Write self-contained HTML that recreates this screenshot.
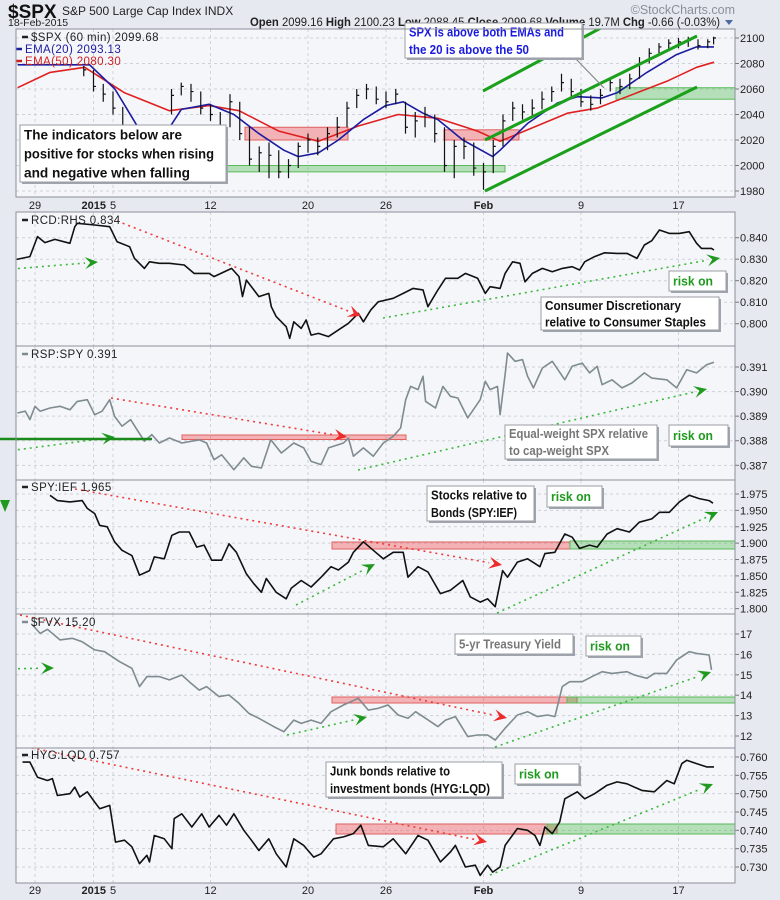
<!DOCTYPE html>
<html><head><meta charset="utf-8"><style>
html,body{margin:0;padding:0;background:#e6e9f0;}
svg{display:block;font-family:"Liberation Sans",Arial,sans-serif;}
</style></head><body>
<svg id="chart" width="780" height="900" viewBox="0 0 780 900" xmlns="http://www.w3.org/2000/svg">
<defs>
<clipPath id="c1"><rect x="16" y="29" width="719" height="168"/></clipPath>
<clipPath id="c2"><rect x="16" y="212" width="719" height="134"/></clipPath>
<clipPath id="c3"><rect x="16" y="346" width="719" height="134"/></clipPath>
<clipPath id="c4"><rect x="16" y="480" width="719" height="134"/></clipPath>
<clipPath id="c5"><rect x="16" y="614" width="719" height="134"/></clipPath>
<clipPath id="c6"><rect x="16" y="748" width="719" height="135"/></clipPath>
</defs>
<rect x="0" y="0" width="780" height="900" fill="#e6e9f0"/>
<text x="8" y="18" font-size="19" font-weight="bold" fill="#111">$SPX</text>
<text x="62" y="15" font-size="12" fill="#222">S&amp;P 500 Large Cap Index  INDX</text>
<text x="8" y="26" font-size="10.5" fill="#222">18-Feb-2015</text>
<text x="250" y="26" font-size="11.5" fill="#222" textLength="470" lengthAdjust="spacingAndGlyphs"><tspan font-weight="bold">Open</tspan> 2099.16 <tspan font-weight="bold">High</tspan> 2100.23 <tspan font-weight="bold">Low</tspan> 2088.45 <tspan font-weight="bold">Close</tspan> 2099.68 <tspan font-weight="bold">Volume</tspan> 19.7M <tspan font-weight="bold">Chg</tspan> -0.66 (-0.03%)</text>
<polygon points="725,20 733,20 729,25" fill="#4a6aa0"/>
<text x="735" y="14" font-size="12.5" fill="#8a8f99" text-anchor="end">©StockCharts.com</text>
<g id="root"></g>
</svg>
<script>
// ---------- DATA ----------
const dateTicks = [0, 3, 4, 9, 14, 18, 23, 28, 33];
const dateLabels = ["29", "2015", "5", "12", "20", "26", "Feb", "9", "17"];
const dateBold = [false, true, false, false, false, false, true, false, false];

const spxT = [2.5,3,3.5,4,4.5,5,5.5,6,6.5,7,7.5,8,8.5,9,9.5,10,10.5,11,11.5,12,12.5,13,13.5,14,14.5,15,15.5,16,16.5,17,17.5,18,18.5,19,19.5,20,20.5,21,21.5,22,22.5,23,23.5,24,24.5,25,25.5,26,26.5,27,27.5,28,28.5,29,29.5,30,30.5,31,31.5,32,32.5,33,33.5,34,34.5,34.8];
const spxHigh = [2078,2075,2064,2058,2046,2030,2015,2022,2032,2060,2065,2064,2058,2048,2042,2056,2050,2030,2015,2018,2012,2005,2018,2025,2022,2030,2038,2050,2060,2064,2062,2058,2060,2050,2042,2046,2040,2030,2020,2022,2018,2002,2020,2040,2050,2048,2052,2058,2062,2072,2068,2060,2055,2060,2068,2068,2072,2085,2092,2096,2099,2100,2101,2099,2099,2101];
const spxLow = [2070,2058,2050,2040,2020,2005,1995,2000,2018,2040,2055,2050,2040,2035,2024,2030,2020,2000,1995,1990,1990,1990,1998,2010,2008,2012,2022,2030,2045,2052,2048,2045,2048,2025,2022,2030,2018,1995,1990,2005,1992,1981,1994,2015,2035,2036,2038,2044,2050,2058,2052,2046,2043,2048,2058,2056,2060,2068,2080,2088,2090,2092,2093,2091,2092,2095];
const spxClose = [2075,2062,2056,2045,2025,2012,2003,2018,2028,2055,2062,2058,2045,2040,2030,2050,2025,2005,2010,2008,1995,2000,2015,2020,2015,2025,2030,2045,2055,2060,2052,2050,2056,2030,2035,2040,2025,2000,2015,2015,1998,1995,2015,2035,2045,2042,2045,2052,2058,2065,2058,2050,2048,2055,2065,2062,2068,2080,2088,2093,2096,2097,2098,2094,2097,2100];
const ema50T = [-0.89,0.77,2.55,4.59,6.89,8.93,10.46,12.5,14.54,16.58,18.62,20.66,22.7,23.85,25.26,27.3,28.83,30.87,32.4,33.93,34.82];
const ema50V = [2061,2073,2077,2057,2043,2047,2043,2027,2019,2031,2040,2037,2027,2019,2028,2041,2045,2057,2066,2077,2081];
const ema20T = [-0.89,2.8,4.1,5.36,6.4,7.5,8.93,10.2,11.48,12.76,13.5,14.54,15.56,16.84,17.98,18.88,19.9,20.66,21.94,23.47,23.85,25.26,26.79,27.81,29.08,29.85,31.38,32.9,33.93,34.82];
const ema20V = [2079,2079,2060,2028,2018,2044,2048,2040,2025,2012,2007,2010,2020,2036,2047,2050,2041,2036,2020,2007,2012,2033,2049,2054,2053,2057,2073,2087,2093,2093];
const spxTicks = [2100,2080,2060,2040,2020,2000,1980];

const rcdT = [-0.94,-0.26,0.13,0.51,1.02,1.79,2.04,2.17,3.06,3.83,4.21,4.85,5.1,5.61,5.87,6.38,6.89,7.65,8.16,8.93,9.18,10.08,10.46,10.64,10.84,11.48,11.99,12.12,12.37,12.88,13.06,13.27,13.65,13.9,14.16,14.54,15.05,15.56,16.07,16.58,16.84,17.22,17.6,18.37,18.88,19.39,19.9,20.15,20.66,21.05,21.68,22.07,22.7,23.09,23.34,23.85,24.11,24.49,24.87,25.13,25.51,26.02,26.53,27.04,27.55,27.93,28.19,28.7,29.21,29.85,30.36,30.87,31.25,31.63,32.02,32.53,33.04,33.55,33.93,34.18,34.69,34.82];
const rcdV = [0.8299,0.8312,0.8405,0.8377,0.8392,0.8374,0.8451,0.8467,0.8459,0.8451,0.8381,0.8358,0.8304,0.8257,0.8288,0.8281,0.8281,0.8273,0.8234,0.8234,0.8219,0.8257,0.8219,0.8126,0.8203,0.8126,0.8141,0.8079,0.8033,0.7986,0.7932,0.8009,0.7978,0.8017,0.7947,0.7955,0.7940,0.7971,0.8002,0.8048,0.8009,0.8064,0.8102,0.8118,0.8141,0.8164,0.8157,0.8079,0.8157,0.8211,0.8211,0.8234,0.8211,0.8141,0.8172,0.8164,0.8234,0.8288,0.8281,0.8195,0.8234,0.8257,0.8242,0.8257,0.8265,0.8250,0.8288,0.8312,0.8330,0.8327,0.8327,0.8304,0.8366,0.8386,0.8436,0.8420,0.8420,0.8428,0.8374,0.8350,0.8350,0.8343];
const rcdTicks = [0.840,0.830,0.820,0.810,0.800];

const rspT = [-0.9,-0.5,-0.26,0,0.26,0.77,1.28,1.79,2.17,2.68,3.06,3.44,3.83,4.08,4.46,4.9,5.23,5.61,5.99,6.38,6.89,7.53,8.42,8.8,9.18,9.57,10.2,10.71,11.1,11.61,12.09,12.63,13.27,13.78,14.16,14.67,15.05,15.82,16.07,16.33,16.84,17.35,17.86,18.37,18.75,19.01,19.26,19.64,19.9,20.03,20.54,20.92,21.3,21.68,22.19,22.83,23.09,23.34,23.72,23.85,24.11,24.23,24.62,25,25.26,25.56,26.02,26.53,27.17,27.55,28.06,28.44,28.83,29.08,29.59,30.1,30.61,31.25,31.63,32.4,32.91,33.42,33.93,34.44,34.82];
const rspV = [0.38913,0.3892,0.38886,0.3894,0.3892,0.38933,0.3894,0.38926,0.3896,0.38967,0.38906,0.3892,0.38967,0.38899,0.38859,0.38886,0.38845,0.38798,0.38825,0.38791,0.38811,0.38791,0.38804,0.38791,0.38723,0.38743,0.38682,0.3873,0.38696,0.38689,0.38804,0.3875,0.38791,0.38771,0.38716,0.38703,0.38771,0.38791,0.38811,0.38737,0.38771,0.38737,0.38791,0.38818,0.38852,0.38967,0.39021,0.39008,0.39062,0.3896,0.38933,0.39021,0.38981,0.38974,0.38893,0.38967,0.39042,0.39008,0.39021,0.38906,0.39069,0.39157,0.39123,0.3913,0.39062,0.39015,0.39096,0.39123,0.39048,0.39103,0.39116,0.39076,0.39103,0.39028,0.39048,0.39015,0.39035,0.39076,0.39055,0.39048,0.39015,0.39089,0.39076,0.39109,0.39119];
const rspTicks = [0.391,0.390,0.389,0.388,0.387];

const iefT = [0.77,1.15,1.79,2.42,2.68,3.06,3.32,3.7,4.08,4.46,4.97,5.36,5.87,6.12,6.63,7.02,7.4,7.91,8.29,8.67,9.06,9.57,9.95,10.33,10.84,11.22,11.61,11.86,12.37,12.88,13.14,13.65,14.16,14.67,15.18,15.56,16.07,16.33,16.84,17.35,17.86,18.37,18.88,19.13,19.64,20.15,20.79,21.3,21.94,22.32,22.83,23.21,23.6,23.98,24.23,24.74,25.26,25.89,26.15,26.66,27.17,27.55,27.93,28.44,28.83,29.34,29.85,30.48,30.99,31.63,32.02,32.53,33.04,33.55,34.06,34.57,34.77];
const iefV = [1.973,1.965,1.963,1.965,1.953,1.945,1.927,1.925,1.902,1.889,1.881,1.851,1.858,1.879,1.876,1.912,1.917,1.917,1.894,1.897,1.874,1.874,1.899,1.886,1.853,1.838,1.825,1.846,1.825,1.815,1.831,1.843,1.833,1.848,1.864,1.859,1.871,1.886,1.902,1.889,1.876,1.886,1.886,1.848,1.864,1.856,1.823,1.828,1.843,1.818,1.810,1.815,1.803,1.858,1.848,1.871,1.876,1.864,1.884,1.886,1.914,1.909,1.892,1.897,1.894,1.914,1.922,1.917,1.932,1.937,1.947,1.947,1.963,1.973,1.968,1.965,1.961];
const iefTicks = [1.975,1.950,1.925,1.900,1.875,1.850,1.825,1.800];

const fvxT = [-0.13,0.26,0.64,1.28,1.91,2.42,3.06,3.57,4.34,4.97,5.36,5.74,6.38,6.89,7.53,7.91,8.42,8.8,9.44,9.95,10.46,10.97,11.48,12.24,12.76,13.27,13.65,14.16,14.67,15.18,15.82,16.58,17.09,17.6,18.11,18.62,19.13,19.52,20.03,20.66,21.05,21.56,22.19,22.7,23.21,23.6,24.11,24.74,25.26,25.77,26.28,26.66,27.04,27.42,28.06,28.57,29.08,29.59,30.36,30.74,31.38,31.76,32.4,32.91,33.55,33.93,34.57,34.69];
const fvxV = [17.44,17.03,17.23,16.71,16.79,16.62,16.22,16.13,15.64,15.32,14.42,14.91,14.91,14.75,14.99,14.66,14.25,14.42,13.93,14.01,13.6,13.11,12.87,12.46,12.21,12.78,12.62,12.78,12.62,13.19,13.52,13.85,13.27,13.36,13.52,13.03,12.87,13.19,12.87,12.46,12.78,12.95,11.97,12.05,12.05,11.8,12.38,13.03,13.19,12.95,13.03,12.95,14.42,14.66,14.66,14.91,15.15,15.07,15.15,14.99,14.83,15.07,15.07,15.73,16.13,16.05,15.97,15.24];
const fvxTicks = [17,16,15,14,13,12];

const hygT = [-0.64,-0.26,0.13,0.64,0.89,1.15,1.79,2.04,2.3,2.68,3.06,3.32,3.83,4.13,4.59,4.97,5.36,5.74,5.87,6.12,6.63,7.02,7.14,7.53,8.04,8.55,8.93,9.44,9.82,10.2,10.71,11.1,11.48,11.99,12.37,12.88,13.27,13.78,14.29,14.67,15.31,15.82,16.33,16.71,17.09,17.86,18.37,19.01,19.64,20.15,20.79,21.3,21.56,22.07,22.58,22.83,23.21,23.47,23.85,24.11,24.74,25.26,25.64,25.89,26.15,26.53,26.91,27.17,27.81,28.19,28.7,29.34,29.85,30.36,31.12,31.76,32.4,32.78,33.17,33.42,33.93,34.44,34.82];
const hygV = [0.7586,0.7586,0.7545,0.7536,0.7541,0.7495,0.75,0.7518,0.7491,0.7505,0.7477,0.7459,0.7468,0.7368,0.7373,0.7355,0.7309,0.7332,0.7314,0.7386,0.7377,0.735,0.7432,0.7445,0.7409,0.7445,0.7409,0.7441,0.7414,0.7445,0.74,0.7373,0.7345,0.7377,0.7336,0.73,0.7377,0.7359,0.7327,0.7336,0.7377,0.7382,0.7391,0.7414,0.7359,0.7355,0.7377,0.7336,0.7386,0.7373,0.7314,0.7341,0.7359,0.73,0.7305,0.7277,0.7305,0.7286,0.73,0.7359,0.7405,0.74,0.7386,0.7359,0.7409,0.7391,0.7423,0.7486,0.7505,0.7486,0.75,0.7523,0.7532,0.7527,0.7509,0.7505,0.7536,0.7527,0.7582,0.7591,0.7582,0.7573,0.7573];
const hygTicks = [0.760,0.755,0.750,0.745,0.740,0.735,0.730];

// ---------- HELPERS ----------
const NS = "http://www.w3.org/2000/svg";
const root = document.getElementById("root");
function mk(tag, attrs, parent) {
  const e = document.createElementNS(NS, tag);
  for (const k in attrs) e.setAttribute(k, attrs[k]);
  (parent || root).appendChild(e);
  return e;
}
const X = t => 35 + t * 19.5;
const PL = 16, PR = 735;

const panels = [
  {top: 29, bot: 197, clip: "c1", Y: v => 38 + (2100 - v) * 1.275, ticks: spxTicks, fmt: v => String(v), name: "spx"},
  {top: 212, bot: 346, clip: "c2", Y: v => 237.7 + (0.840 - v) * 2150, ticks: rcdTicks, fmt: v => v.toFixed(3), name: "rcd-rhs"},
  {top: 346, bot: 480, clip: "c3", Y: v => 367 + (0.391 - v) * 24580, ticks: rspTicks, fmt: v => v.toFixed(3), name: "rsp-spy"},
  {top: 480, bot: 614, clip: "c4", Y: v => 494 + (1.975 - v) * 655, ticks: iefTicks, fmt: v => v.toFixed(3), name: "spy-ief"},
  {top: 614, bot: 748, clip: "c5", Y: v => 634 + (17 - v) * 20.4, ticks: fvxTicks, fmt: v => String(v), name: "fvx"},
  {top: 748, bot: 883, clip: "c6", Y: v => 757 + (0.760 - v) * 3667, ticks: hygTicks, fmt: v => v.toFixed(3), name: "hyg-lqd"}
];

panels.forEach(p => {
  const bg = mk("rect", {x: PL, y: p.top, width: PR - PL, height: p.bot - p.top, fill: "#f5f6fa"});
  
  
  dateTicks.forEach(t => {
    const gl = mk("line", {x1: X(t), x2: X(t), y1: p.top, y2: p.bot, stroke: "#cfd2da", "stroke-dasharray": "3,3", "stroke-width": 1});
    
    
  });
  p.ticks.forEach(v => {
    const y = p.Y(v);
    const gl = mk("line", {x1: PL, x2: PR, y1: y, y2: y, stroke: "#cfd2da", "stroke-dasharray": "3,3", "stroke-width": 1});
    
    
    const tk = mk("line", {x1: PR, x2: PR + 4, y1: y, y2: y, stroke: "#777"});
    
    
    const tx = mk("text", {x: PR + 5, y: y + 4, "font-size": 11, fill: "#222"});
    tx.textContent = p.fmt(v);
    
    
  });
});

[205, 890].forEach(yy => {
  dateTicks.forEach((t, i) => {
    const tx = mk("text", {x: X(t), y: yy + 4, "font-size": 11, fill: "#222", "text-anchor": dateLabels[i] === "2015" ? "end" : "middle", "font-weight": dateBold[i] ? "bold" : "normal"});
    if (dateLabels[i] === "2015") tx.setAttribute("x", X(4) - 7);
    tx.textContent = dateLabels[i];
    
    
  });
});

function gClip(p, nm) {
  const g = mk("g", {"clip-path": "url(#" + p.clip + ")"});
  
  
  return g;
}
function band(g, x1, x2, y1, y2, color, nm) {
  const r = mk("rect", {x: x1, y: y1, width: x2 - x1, height: y2 - y1, fill: color === "red" ? "rgba(240,80,80,0.4)" : "rgba(60,180,60,0.35)", stroke: color === "red" ? "#e06060" : "#5aba5a", "stroke-width": 1}, g);
  
  
}
function seriesLine(g, T, V, p, color, nm) {
  let d = "";
  T.forEach((t, i) => { d += (i ? "L" : "M") + X(t).toFixed(1) + "," + p.Y(V[i]).toFixed(1); });
  const pa = mk("path", {d: d, fill: "none", stroke: color, "stroke-width": 1.6, "stroke-linejoin": "round"}, g);
  
  
}
function arrow(g, x1, y1, x2, y2, color, nm) {
  const col = color === "red" ? "#ee2a2a" : "#1f9a1f";
  const dot = color === "red" ? "#ee3a3a" : "#3cb83c";
  const a = Math.atan2(y2 - y1, x2 - x1);
  const L = 13, W = 6;
  const bx = x2 - L * Math.cos(a), by = y2 - L * Math.sin(a);
  const ln = mk("line", {x1: x1, y1: y1, x2: bx, y2: by, stroke: dot, "stroke-width": 1.6, "stroke-dasharray": "2,4"}, g);
  
  
  const nx = -Math.sin(a), ny = Math.cos(a);
  const nxp = x2 - 0.6 * L * Math.cos(a), nyp = y2 - 0.6 * L * Math.sin(a);
  const pts = [[x2, y2], [bx + nx * W, by + ny * W], [nxp, nyp], [bx - nx * W, by - ny * W]].map(q => q[0].toFixed(1) + "," + q[1].toFixed(1)).join(" ");
  const hd = mk("polygon", {points: pts, fill: col}, g);
  
  
}
function textBox(x, y, w, h, lines, color, size, nm) {
  const g = mk("g", {});
  
  
  mk("rect", {x: x + 2, y: y + 2, width: w, height: h, fill: "#a0a4ac"}, g);
  mk("rect", {x: x, y: y, width: w, height: h, fill: "#ffffff", stroke: "#9a9ea6", "stroke-width": 1}, g);
  const lh = h / lines.length;
  lines.forEach((ln, i) => {
    const t = mk("text", {x: x + 4, y: y + lh * i + lh * 0.5 + size * 0.36, "font-size": size, "font-weight": "bold", fill: color}, g);
    if (ln.fit) { t.setAttribute("textLength", ln.fit); t.setAttribute("lengthAdjust", "spacingAndGlyphs"); }
    t.textContent = ln.s;
    
    
  });
  return g;
}
function legend(x, y, txt, color, nm, dashColor) {
  const d = mk("line", {x1: x - 9, x2: x - 3, y1: y - 4, y2: y - 4, stroke: dashColor || color, "stroke-width": 2.5});
  
  
  const t = mk("text", {x: x, y: y, "font-size": 11.5, fill: color, "letter-spacing": "0.4"});
  t.textContent = txt;
  
  
}

// ---------- PANEL 1: SPX ----------
{
  const p = panels[0];
  const g = gClip(p, "spx-plot");
  band(g, 245, 348, p.Y(2030), p.Y(2020), "red", "spx-resistance-zone-1");
  band(g, 444, 519, p.Y(2028), p.Y(2020), "red", "spx-resistance-zone-2");
  band(g, 226, 505, p.Y(2000), p.Y(1995), "green", "spx-support-zone-1");
  band(g, 616, 735, p.Y(2061), p.Y(2052), "green", "spx-support-zone-2");
  seriesLine(g, ema50T, ema50V, p, "#e02020", "ema50-line");
  seriesLine(g, ema20T, ema20V, p, "#1c1ca0", "ema20-line");
  spxT.forEach((t, i) => {
    const x = X(t);
    const b = mk("path", {d: "M" + x + "," + p.Y(spxHigh[i]) + "V" + p.Y(spxLow[i]) + "M" + x + "," + p.Y(spxClose[i]) + "h2.5", stroke: "#111", "stroke-width": 1.2, fill: "none"}, g);
    
    
  });
  [[483, 91, 657, -2], [485, 140, 697, 36], [485, 191, 697, 87]].forEach(c => {
    const l = mk("line", {x1: c[0], y1: c[1], x2: c[2], y2: c[3], stroke: "#1aa01a", "stroke-width": 3}, g);
    
    
  });
  legend(31, 41, "$SPX (60 min) 2099.68", "#222", "spx-legend", "#222");
  legend(25, 53, "EMA(20) 2093.13", "#1c1ca0", "ema20-legend");
  legend(25, 65, "EMA(50) 2080.30", "#d02020", "ema50-legend");
  const pl = mk("polyline", {points: "575,58 604,88", stroke: "#888", "stroke-width": 1.2, fill: "none"});
  
  
  textBox(405, 23, 177, 35, [{s: "SPX is above both EMAs and", fit: 155}, {s: "the 20 is above the 50", fit: 120}], "#1a1ae0", 13, "spx-callout");
  textBox(20, 125, 206, 57, [{s: "The indicators below are", fit: 158}, {s: "positive for stocks when rising", fit: 190}, {s: "and negative when falling", fit: 166}], "#111", 14, "indicators-note");
}

// ---------- PANEL 2: RCD:RHS ----------
{
  const p = panels[1];
  const g = gClip(p, "rcd-plot");
  seriesLine(g, rcdT, rcdV, p, "#111", "rcd-rhs-line");
  arrow(g, 117, 221, 361, 316, "red", "rcd-down-arrow");
  arrow(g, 0, 270, 98, 262, "green", "rcd-up-arrow-1");
  arrow(g, 383, 318, 720, 258, "green", "rcd-up-arrow-2");
  legend(31, 224, "RCD:RHS 0.834", "#222", "rcd-legend");
  textBox(669, 271, 57, 20, [{s: "risk on", fit: 40}], "#1f9a1f", 13, "rcd-risk-on");
  textBox(541, 297, 178, 33, [{s: "Consumer Discretionary", fit: 136}, {s: "relative to Consumer Staples", fit: 161}], "#111", 12.5, "rcd-description");
}

// ---------- PANEL 3: RSP:SPY ----------
{
  const p = panels[2];
  const g = gClip(p, "rsp-plot");
  band(g, 182, 406, 435, 439.5, "red", "rsp-resistance-zone");
  const gl = mk("line", {x1: 0, x2: 152, y1: 439, y2: 439, stroke: "#1a8a1a", "stroke-width": 2.5});
  
  
  seriesLine(g, rspT, rspV, p, "#7e8b90", "rsp-spy-line");
  arrow(g, 111, 398, 347, 437, "red", "rsp-down-arrow");
  arrow(g, 0, 452, 115, 437, "green", "rsp-up-arrow-1");
  arrow(g, 358, 470, 707, 389, "green", "rsp-up-arrow-2");
  legend(31, 358, "RSP:SPY 0.391", "#222", "rsp-legend", "#7e8b90");
  textBox(669, 425, 59, 21, [{s: "risk on", fit: 40}], "#1f9a1f", 13, "rsp-risk-on");
  textBox(505, 425, 152, 34, [{s: "Equal-weight SPX relative", fit: 139}, {s: "to cap-weight SPX", fit: 100}], "#777", 12.5, "rsp-description");
}

// ---------- PANEL 4: SPY:IEF ----------
{
  const p = panels[3];
  const g = gClip(p, "ief-plot");
  band(g, 332, 570, 542, 549, "red", "ief-resistance-zone");
  band(g, 570, 735, 541, 549, "green", "ief-support-zone");
  seriesLine(g, iefT, iefV, p, "#111", "spy-ief-line");
  arrow(g, 75, 489, 502, 565, "red", "ief-down-arrow");
  arrow(g, 296, 605, 375, 564, "green", "ief-up-arrow-1");
  arrow(g, 497, 613, 718, 512, "green", "ief-up-arrow-2");
  legend(31, 491, "SPY:IEF 1.965", "#222", "ief-legend");
  textBox(427, 486, 107, 35, [{s: "Stocks relative to", fit: 96}, {s: "Bonds (SPY:IEF)", fit: 86}], "#111", 12.5, "ief-description");
  textBox(547, 486, 55, 21, [{s: "risk on", fit: 40}], "#1f9a1f", 13, "ief-risk-on");
}
{
  const la = mk("polygon", {points: "0,500 10,500 5,512"});
  la.setAttribute("fill", "#1f9a1f");
  
  
}

// ---------- PANEL 5: $FVX ----------
{
  const p = panels[4];
  const g = gClip(p, "fvx-plot");
  band(g, 332, 577, 697, 703, "red", "fvx-resistance-zone");
  band(g, 567, 735, 697, 703, "green", "fvx-support-zone");
  seriesLine(g, fvxT, fvxV, p, "#7e8b90", "fvx-line");
  arrow(g, 20, 615, 507, 718, "red", "fvx-down-arrow");
  arrow(g, 0, 669, 54, 668, "green", "fvx-up-arrow-1");
  arrow(g, 287, 735, 367, 717, "green", "fvx-up-arrow-2");
  arrow(g, 495, 747, 711, 672, "green", "fvx-up-arrow-3");
  legend(31, 626, "$FVX 15.20", "#222", "fvx-legend", "#7e8b90");
  textBox(455, 634, 118, 20, [{s: "5-yr Treasury Yield", fit: 102}], "#777", 12.5, "fvx-description");
  textBox(586, 636, 55, 20, [{s: "risk on", fit: 40}], "#1f9a1f", 13, "fvx-risk-on");
}

// ---------- PANEL 6: HYG:LQD ----------
{
  const p = panels[5];
  const g = gClip(p, "hyg-plot");
  band(g, 336, 557, 824, 834, "red", "hyg-resistance-zone");
  band(g, 547, 735, 824, 834, "green", "hyg-support-zone");
  seriesLine(g, hygT, hygV, p, "#111", "hyg-lqd-line");
  arrow(g, 8, 743, 487, 842, "red", "hyg-down-arrow");
  arrow(g, 490, 875, 713, 784, "green", "hyg-up-arrow");
  legend(31, 759, "HYG:LQD 0.757", "#222", "hyg-legend");
  textBox(326, 762, 176, 35, [{s: "Junk bonds relative to", fit: 120}, {s: "investment bonds (HYG:LQD)", fit: 160}], "#111", 12.5, "hyg-description");
  textBox(515, 764, 64, 20, [{s: "risk on", fit: 40}], "#1f9a1f", 13, "hyg-risk-on");
}

panels.forEach(p => {
  const r = mk("rect", {x: PL, y: p.top, width: PR - PL, height: p.bot - p.top, fill: "none", stroke: "#8c909a", "stroke-width": 1});
  
  
});
</script>
</body></html>
